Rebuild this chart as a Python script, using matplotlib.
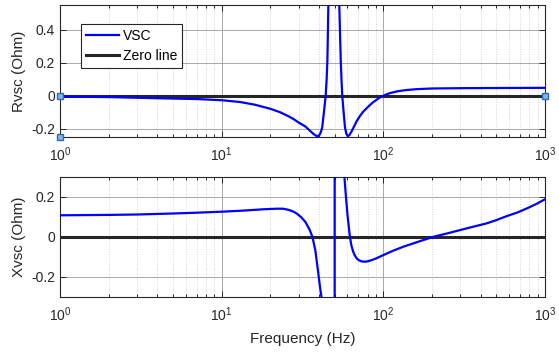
import matplotlib
matplotlib.use("Agg")
import matplotlib.pyplot as plt
from matplotlib.ticker import LogLocator, FixedLocator, NullFormatter

plt.rcParams['font.family'] = ['Liberation Sans', 'DejaVu Sans']
plt.rcParams['axes.unicode_minus'] = False
plt.rcParams['mathtext.fontset'] = 'custom'
plt.rcParams['mathtext.rm'] = 'Liberation Sans'
plt.rcParams['mathtext.it'] = 'Liberation Sans'

# Resistance of the VSC impedance (Ohm) versus frequency (Hz)
freq_r = [1, 2, 4, 7, 10, 13, 16, 20, 23, 26, 28, 30, 32.8, 35, 37, 38.5, 39.3,
          40.3, 41.1, 41.9, 42.9, 44.0, 44.6, 45.1, 45.7, 47, 48.5, 50, 51.5, 53,
          53.4, 54.5, 55.1, 55.7, 56.8, 57.9, 59, 60.2, 61.5, 63.7, 66, 68.4, 72,
          75, 79, 85, 90, 95.3, 100, 105, 110, 121, 130, 140, 161, 200, 250, 311,
          500, 1000]
rvsc = [-0.005, -0.008, -0.015, -0.02, -0.027, -0.038, -0.054, -0.079, -0.1,
        -0.125, -0.143, -0.163, -0.185, -0.21, -0.232, -0.243, -0.245, -0.237,
        -0.22, -0.19, -0.1, 0.0, 0.1, 0.22, 0.55, 1.0, 1.8, 2.5, 1.8, 0.8, 0.55,
        0.22, 0.1, 0.0, -0.1, -0.19, -0.23, -0.245, -0.24, -0.215, -0.185,
        -0.154, -0.12, -0.097, -0.075, -0.045, -0.027, -0.01, 0.0, 0.009, 0.016,
        0.026, 0.031, 0.035, 0.04, 0.044, 0.045, 0.046, 0.047, 0.048]

# Reactance of the VSC impedance (Ohm) versus frequency (Hz)
freq_x = [1, 2, 3, 5, 7, 10, 14, 18, 22, 24, 26, 27.8, 29, 31, 33, 35, 36.4, 38,
          39.7, 40.7, 41.6, 43, 45, 48, 49.95, 50.05, 52, 55, 57.3, 58.6, 60,
          62.1, 63.5, 65.1, 66.5, 67.6, 69, 70.5, 72, 74, 77.2, 80, 84, 90, 100,
          115, 133, 150, 169, 205, 250, 298, 360, 437, 500, 580, 680, 775, 880,
          1000]
xvsc = [0.107, 0.109, 0.111, 0.116, 0.12, 0.125, 0.131, 0.137, 0.14, 0.14,
        0.134, 0.125, 0.117, 0.098, 0.073, 0.035, 0.0, -0.07, -0.19, -0.26,
        -0.31, -0.5, -0.9, -2.5, -20, 20, 3, 0.8, 0.31, 0.208, 0.11, 0.0,
        -0.045, -0.075, -0.092, -0.102, -0.111, -0.117, -0.121, -0.124, -0.125,
        -0.123, -0.118, -0.109, -0.092, -0.07, -0.05, -0.036, -0.022, 0.0,
        0.017, 0.033, 0.05, 0.067, 0.083, 0.103, 0.122, 0.142, 0.163, 0.187]

# Reference line and marked points
zero_f = [1, 1000]
zero_v = [0, 0]
tip_f = [1, 1, 1000]
tip_v = [0, -0.25, 0]

r_ticks = [-0.2, 0, 0.2, 0.4]
x_ticks = [-0.2, 0, 0.2]
r_tick_labels = ['-0.2', '0', '0.2', '0.4']
x_tick_labels = ['-0.2', '0', '0.2']

dark = '#262626'
fig = plt.figure(figsize=(5.59, 3.52), dpi=100)
ax1 = fig.add_axes([60 / 559, 1 - 137 / 352, 485 / 559, 132 / 352])
ax2 = fig.add_axes([60 / 559, 1 - 296.7 / 352, 485 / 559, 120 / 352])


def style(ax):
    ax.set_xscale('log')
    ax.set_xlim(1, 1000)
    ax.xaxis.set_major_locator(LogLocator(base=10, numticks=10))
    ax.xaxis.set_minor_locator(LogLocator(base=10, subs=range(2, 10), numticks=20))
    ax.xaxis.set_minor_formatter(NullFormatter())
    ax.grid(True, which='major', axis='both', color='#a8a8a8', linewidth=0.7)
    ax.grid(True, which='minor', axis='x', color='#c4c4c4', linewidth=0.6,
            linestyle=(0, (1, 2)))
    ax.set_axisbelow(True)
    for s in ax.spines.values():
        s.set_color(dark)
        s.set_linewidth(0.8)
    ax.tick_params(which='both', direction='in', top=True, right=True,
                   colors=dark, labelsize=10, width=0.7)
    ax.tick_params(which='major', length=4.5)
    ax.tick_params(which='minor', length=2.5)
    ax.tick_params(axis='x', pad=6)


style(ax1)
style(ax2)

ax1.plot(freq_r, rvsc, color='#0000ff', lw=1.6, label='VSC', zorder=3)
ax1.plot(zero_f, zero_v, color=dark, lw=2.2, label='Zero line', zorder=2.5)
ax1.plot(tip_f, tip_v, linestyle='none', marker='s', ms=4.5,
         mfc='#7fb6e3', mec='#2b6cb0', mew=1.0, zorder=5, clip_on=False)
ax1.set_ylim(-0.25, 0.55)
ax1.yaxis.set_major_locator(FixedLocator(r_ticks))
ax1.set_yticklabels(r_tick_labels)
ax1.set_ylabel('Rvsc (Ohm)', fontsize=11, color=dark, labelpad=4)
leg = ax1.legend(loc='upper left', bbox_to_anchor=(0.043, 0.856),
                 borderaxespad=0, fancybox=False, framealpha=1,
                 edgecolor=dark, fontsize=10, handlelength=2.4,
                 handletextpad=0.25, borderpad=0.35, labelspacing=0.45)
leg.get_frame().set_linewidth(0.8)

ax2.plot(freq_x, xvsc, color='#0000ff', lw=1.6, zorder=3)
ax2.plot(zero_f, zero_v, color=dark, lw=2.2, zorder=2.5)
ax2.set_ylim(-0.3, 0.3)
ax2.yaxis.set_major_locator(FixedLocator(x_ticks))
ax2.set_yticklabels(x_tick_labels)
ax2.set_ylabel('Xvsc (Ohm)', fontsize=11, color=dark, labelpad=4)
ax2.set_xlabel('Frequency (Hz)', fontsize=11, color=dark, labelpad=6)

fig.savefig('out.png', dpi=100)
